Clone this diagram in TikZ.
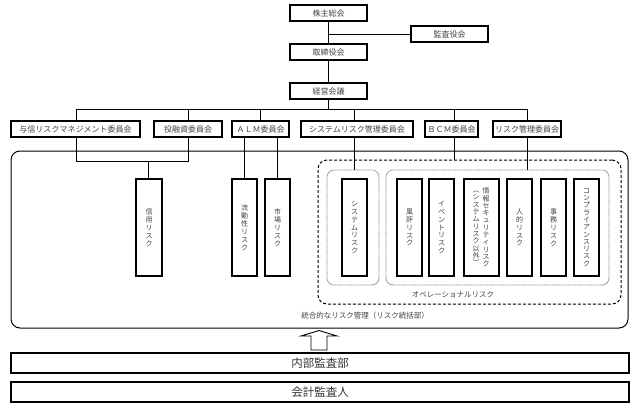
\documentclass[tikz,border=0pt]{standalone}
\usepackage{fontspec}
\newfontfamily\cjk{Noto Sans CJK JP}
\begin{document}
\begin{tikzpicture}[x=1pt,y=-1pt,
  conn/.style={draw=black, line width=0.9pt},
  topbox/.style={draw=black, line width=1.2pt, minimum height=16pt, inner sep=0pt, text=black!75, font=\cjk\fontsize{8pt}{9pt}\selectfont},
  riskbox/.style={draw=black, line width=1.2pt, minimum height=97pt, inner sep=0pt},
  vtext/.style={align=center, inner sep=0pt, text=black!75, font=\cjk\fontsize{7pt}{7.9pt}\selectfont},
  vtextlong/.style={align=center, inner sep=0pt, text=black!75, font=\cjk\fontsize{7pt}{7.3pt}\selectfont},
  lbl/.style={inner sep=0pt, text=black!75, font=\cjk\fontsize{7.5pt}{8pt}\selectfont},
  bigbox/.style={draw=black, line width=1.1pt, minimum width=618pt, minimum height=20pt, inner sep=0pt, text=black!80, font=\cjk\fontsize{11.5pt}{12pt}\selectfont},
  container/.style={rounded corners=9pt, inner sep=0pt}
]
\useasboundingbox (0,0) rectangle (639,418);

% top level
\node[topbox, minimum width=77pt] (kabu) at (328.5,13) {株主総会};
\node[topbox, minimum width=77pt] (kansa) at (449.5,34) {監査役会};
\node[topbox, minimum width=77pt] (tori) at (328.5,52) {取締役会};
\node[topbox, minimum width=77pt] (keiei) at (328.5,91) {経営会議};

% committees
\node[topbox, minimum width=129pt] (yoshin) at (75.5,129) {与信リスクマネジメント委員会};
\node[topbox, minimum width=68pt] (toyushi) at (188,129) {投融資委員会};
\node[topbox, minimum width=57pt] (alm) at (260.5,129) {ＡＬＭ委員会};
\node[topbox, minimum width=112pt] (sysc) at (357,129) {システムリスク管理委員会};
\node[topbox, minimum width=53pt] (bcm) at (451.5,129) {ＢＣＭ委員会};
\node[topbox, minimum width=68pt] (riskc) at (527,129) {リスク管理委員会};

% containers
\node[container, draw=black, line width=1pt, minimum width=617pt, minimum height=177pt] (outer) at (319.5,239.5) {};
\node[container, draw=black, line width=1pt, dash pattern=on 3pt off 2pt, minimum width=303pt, minimum height=144pt] (oper) at (469.5,232) {};
\node[container, draw=black!60, line width=0.8pt, dash pattern=on 0.5pt off 0.6pt, rounded corners=7pt, minimum width=52pt, minimum height=115pt] (dot1) at (353,227.5) {};
\node[container, draw=black!60, line width=0.8pt, dash pattern=on 0.5pt off 0.6pt, rounded corners=7pt, minimum width=223pt, minimum height=115pt] (dot2) at (497.5,227.5) {};

% risk boxes
\node[riskbox, minimum width=26pt] (shinyo) at (149,227.5) {};
\node[vtext] at (shinyo) {信\\用\\リ\\ス\\ク};
\node[riskbox, minimum width=25pt] (ryudo) at (244.5,227.5) {};
\node[vtext] at (ryudo) {流\\動\\性\\リ\\ス\\ク};
\node[riskbox, minimum width=25pt] (shijo) at (277.5,227.5) {};
\node[vtext] at (shijo) {市\\場\\リ\\ス\\ク};
\node[riskbox, minimum width=25pt] (sysr) at (354.5,227.5) {};
\node[vtext] at (sysr) {シ\\ス\\テ\\ム\\リ\\ス\\ク};
\node[riskbox, minimum width=25pt] (fuhyo) at (409.5,227.5) {};
\node[vtext] at (fuhyo) {風\\評\\リ\\ス\\ク};
\node[riskbox, minimum width=25pt] (event) at (441.5,227.5) {};
\node[vtext] at (event) {イ\\ベ\\ン\\ト\\リ\\ス\\ク};
\node[riskbox, minimum width=35pt] (joho) at (481.5,227.5) {};
\node[vtextlong] (johoR) at (486,227.5) {情\\報\\セ\\キ\\ュ\\リ\\テ\\ィ\\リ\\ス\\ク};
\node[vtextlong] (johoL) at (476,228.5) {︵\\シ\\ス\\テ\\ム\\リ\\ス\\ク\\以\\外\\︶};
\node[riskbox, minimum width=25pt] (jinteki) at (519.5,227.5) {};
\node[vtext] at (jinteki) {人\\的\\リ\\ス\\ク};
\node[riskbox, minimum width=25pt] (jimu) at (553.5,227.5) {};
\node[vtext] at (jimu) {事\\務\\リ\\ス\\ク};
\node[riskbox, minimum width=25pt] (comp) at (586.5,227.5) {};
\node[vtextlong] at (comp) {コ\\ン\\プ\\ラ\\イ\\ア\\ン\\ス\\リ\\ス\\ク};

% labels
\node[lbl] (operlbl) at (453,295) {オペレーショナルリスク};
\node[lbl] (outerlbl) at (365,316) {統合的なリスク管理（リスク統括部）};

% bottom boxes
\node[bigbox] (naibu) at (320,363) {内部監査部};
\node[bigbox] (kaikei) at (320,392) {会計監査人};

% block arrow
\draw[line width=0.9pt, fill=white] (311,350) -- (311,336) -- (301,336) -- (319,330.5) -- (337,336) -- (327,336) -- (327,350) -- cycle;

% connectors top
\draw[conn] (kabu) -- (tori);
\coordinate (kj) at (328.5,34);
\draw[conn] (kj) -- (kansa.west);
\draw[conn] (tori) -- (keiei);
\coordinate (busL) at (76.5,109);
\coordinate (busR) at (527,109);
\coordinate (sysx) at (354,109);
\coordinate (bcmx) at (454,109);
\draw[conn] (keiei.south) -- (keiei.south |- busL);
\draw[conn] (busL) -- (busR);
\draw[conn] (busL) -- (busL |- yoshin.north);
\draw[conn] (toyushi.north |- busL) -- (toyushi.north);
\draw[conn] (alm.north |- busL) -- (alm.north);
\draw[conn] (sysx) -- (sysx |- sysc.north);
\draw[conn] (bcmx) -- (bcmx |- bcm.north);
\draw[conn] (busR) -- (riskc.north);

% connectors below committees
\coordinate (yj) at (76.5,161);
\draw[conn] (yj |- yoshin.south) -- (yj) -- (toyushi.south |- yj) -- (toyushi.south);
\coordinate (sj) at (148,161);
\draw[conn] (sj) -- (sj |- shinyo.north);
\draw[conn] (ryudo.north |- alm.south) -- (ryudo.north);
\draw[conn] (shijo.north |- alm.south) -- (shijo.north);
\draw[conn] (sysx |- sysc.south) -- (sysx |- dot1.north);
\draw[conn] (bcmx |- bcm.south) -- (bcmx |- oper.north);
\draw[conn] (riskc.south) -- (riskc.south |- dot2.north);
\end{tikzpicture}
\end{document}
